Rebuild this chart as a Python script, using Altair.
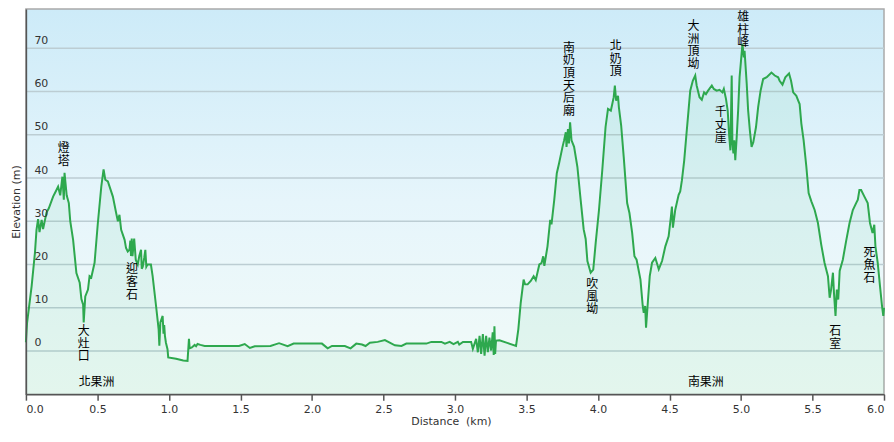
import altair as alt
import pandas as pd

# ---- elevation profile (distance km, elevation m) ----
km = [
    0.000, 0.008, 0.040, 0.063, 0.074, 0.085, 0.095, 0.110, 0.120, 0.144, 0.160, 0.190, 0.210,
    0.225, 0.240, 0.255, 0.265, 0.270, 0.285, 0.300, 0.310, 0.330, 0.353, 0.376, 0.388, 0.400,
    0.404, 0.415, 0.434, 0.445, 0.457, 0.480, 0.503, 0.527, 0.543, 0.555, 0.573, 0.608, 0.631,
    0.643, 0.654, 0.666, 0.690, 0.700, 0.712, 0.724, 0.730, 0.735, 0.740, 0.745, 0.757, 0.768,
    0.782, 0.793, 0.805, 0.810, 0.817, 0.827, 0.835, 0.842, 0.850, 0.874, 0.886, 0.910, 0.928,
    0.933, 0.940, 0.956, 0.962, 0.967, 0.972, 0.979, 0.990, 0.995, 1.050, 1.100, 1.130, 1.140,
    1.145, 1.160, 1.180, 1.190, 1.200, 1.220, 1.250, 1.490, 1.530, 1.566, 1.600, 1.710, 1.770,
    1.830, 1.872, 2.070, 2.110, 2.140, 2.230, 2.270, 2.310, 2.350, 2.375, 2.405, 2.460, 2.510,
    2.580, 2.626, 2.660, 2.800, 2.835, 2.905, 2.930, 2.963, 2.990, 3.020, 3.030, 3.056, 3.113,
    3.125, 3.148, 3.160, 3.172, 3.183, 3.195, 3.207, 3.218, 3.230, 3.241, 3.253, 3.264, 3.271,
    3.276, 3.281, 3.287, 3.311, 3.370, 3.427, 3.443, 3.460, 3.480, 3.490, 3.508, 3.530, 3.550,
    3.565, 3.590, 3.605, 3.617, 3.625, 3.647, 3.666, 3.675, 3.694, 3.712, 3.728, 3.752, 3.763,
    3.775, 3.780, 3.790, 3.797, 3.805, 3.815, 3.833, 3.856, 3.879, 3.900, 3.914, 3.926, 3.949,
    3.967, 3.984, 4.007, 4.030, 4.053, 4.070, 4.090, 4.100, 4.110, 4.118, 4.127, 4.140, 4.146,
    4.162, 4.180, 4.204, 4.220, 4.239, 4.255, 4.270, 4.297, 4.313, 4.320, 4.330, 4.336, 4.350,
    4.362, 4.378, 4.401, 4.425, 4.448, 4.471, 4.494, 4.510, 4.517, 4.524, 4.540, 4.564, 4.575,
    4.587, 4.603, 4.617, 4.633, 4.645, 4.663, 4.680, 4.690, 4.710, 4.726, 4.742, 4.755, 4.770,
    4.796, 4.810, 4.830, 4.850, 4.870, 4.880, 4.895, 4.907, 4.918, 4.926, 4.935, 4.940, 4.947,
    4.953, 4.960, 4.970, 4.980, 4.990, 5.000, 5.010, 5.020, 5.025, 5.040, 5.050, 5.062, 5.074,
    5.086, 5.105, 5.120, 5.137, 5.155, 5.180, 5.213, 5.236, 5.260, 5.270, 5.290, 5.310, 5.336,
    5.350, 5.365, 5.387, 5.400, 5.410, 5.422, 5.438, 5.457, 5.473, 5.492, 5.515, 5.538, 5.561,
    5.584, 5.608, 5.620, 5.630, 5.643, 5.650, 5.661, 5.670, 5.680, 5.690, 5.712, 5.735, 5.759,
    5.782, 5.805, 5.817, 5.828, 5.840, 5.863, 5.886, 5.902, 5.920, 5.932, 5.940, 5.956, 5.972,
    5.986, 5.995, 6.000,
]
elev = [
    2.0, 6.5, 15.0, 22.7, 28.0, 30.5, 27.5, 30.3, 28.2, 32.0, 33.0, 35.7, 37.0,
    38.0, 36.0, 40.3, 35.0, 41.2, 36.0, 34.2, 30.0, 25.7, 18.0, 15.8, 12.0, 10.7,
    6.6, 12.6, 14.2, 17.3, 17.0, 20.4, 29.6, 38.0, 42.0, 39.6, 39.2, 35.7, 31.9,
    30.0, 31.5, 28.0, 25.7, 23.8, 23.0, 23.4, 25.5, 22.0, 26.0, 21.9, 26.0, 21.1,
    20.0, 22.0, 23.4, 19.0, 19.5, 21.5, 23.4, 19.5, 20.0, 20.0, 17.3, 10.4, 5.0,
    1.2, 6.6, 8.1, 4.0, 6.0, 3.5, 1.9, 0.4, -1.5, -1.8, -2.2, -2.3, 2.8,
    0.6, 0.8, 1.4, 1.1, 1.6, 1.4, 1.15, 1.15, 1.6, 0.7, 1.1, 1.15, 1.8,
    1.1, 1.7, 1.7, 0.6, 1.15, 1.15, 0.6, 1.7, 1.5, 1.15, 1.9, 2.1, 2.5,
    1.3, 1.15, 1.7, 1.7, 2.1, 2.1, 1.7, 2.1, 1.6, 2.1, 1.5, 2.1, 2.1,
    0.5, 2.8, -0.3, 3.5, -0.7, 3.9, -1.1, 3.5, -0.3, 3.1, 0.1, 4.3, -0.9,
    5.7, -0.7, 2.4, 2.45, 1.8, 1.15, 5.0, 11.2, 16.5, 15.4, 15.4, 16.2, 17.3,
    16.4, 20.0, 20.3, 21.9, 19.7, 24.2, 30.3, 29.3, 34.9, 41.1, 43.4, 47.2, 48.7,
    50.6, 47.2, 51.3, 48.0, 52.9, 48.7, 47.2, 42.6, 34.9, 28.1, 25.9, 20.8, 18.1,
    18.8, 25.0, 32.6, 41.8, 51.8, 56.0, 55.6, 57.1, 58.7, 61.4, 57.9, 59.0, 56.4,
    52.2, 44.9, 34.2, 31.9, 27.3, 21.9, 21.1, 16.5, 10.4, 8.8, 10.4, 5.4, 11.9,
    17.3, 20.4, 21.5, 18.9, 20.8, 24.2, 26.5, 31.1, 33.4, 28.5, 32.6, 36.1, 36.9,
    39.5, 44.1, 49.5, 55.6, 60.2, 62.5, 63.7, 61.4, 58.7, 58.1, 59.8, 59.4, 60.2,
    61.4, 60.6, 60.2, 60.4, 59.8, 60.6, 58.3, 55.6, 49.5, 46.4, 63.7, 48.0, 45.7,
    48.7, 44.1, 49.5, 55.6, 63.3, 67.1, 71.0, 67.9, 69.4, 61.8, 55.6, 51.0, 47.2,
    48.3, 51.8, 56.4, 60.2, 62.9, 63.3, 64.4, 63.7, 63.3, 62.5, 61.6, 63.3, 64.2,
    62.5, 59.8, 59.0, 57.9, 57.1, 52.6, 48.7, 42.6, 36.5, 34.6, 32.6, 29.6, 24.6,
    20.4, 17.3, 12.3, 14.2, 18.1, 13.5, 8.1, 14.2, 11.9, 18.5, 21.1, 25.4, 29.6,
    32.6, 34.2, 35.0, 37.2, 37.2, 35.7, 34.2, 29.6, 27.3, 29.2, 24.2, 20.4, 15.0,
    10.4, 8.1, 10.0,
]

# ---- place-name labels (vertical ones are stacked character by character) ----
vlabel_names = ["燈塔", "大灶口", "迎客石", "南奶頂天后廟", "北奶頂", "大洲頂坳",
                "雄柱峰", "吹風坳", "千丈崖", "石室", "死魚石"]
vlabel_km = [0.264, 0.404, 0.741, 3.797, 4.124, 4.667, 5.016, 3.960, 4.858, 5.659, 5.899]
vlabel_top = [48.0, 5.75, 20.0, 71.3, 71.7, 76.3, 78.4, 16.6, 56.3, 5.75, 23.9]

hlabel_names = ["北果洲", "南果洲"]
hlabel_km = [0.494, 4.754]
hlabel_mid = [-7.1, -7.1]

x_ticks = [0.0, 0.5, 1.0, 1.5, 2.0, 2.5, 3.0, 3.5, 4.0, 4.5, 5.0, 5.5, 6.0]
y_ticks = [0, 10, 20, 30, 40, 50, 60, 70]

W, H = 862, 387
YMIN, YMAX = -10, 79.1
FONT = "DejaVu Sans"
CJK = "Noto Sans CJK TC"

profile = pd.DataFrame({"km": km, "elev": elev})
vlabels = pd.DataFrame({
    "km": vlabel_km,
    "elev": vlabel_top,
    "txt": ["\n".join(list(s)) for s in vlabel_names],
})
hlabels = pd.DataFrame({"km": hlabel_km, "elev": hlabel_mid, "txt": hlabel_names})
grid_df = pd.DataFrame({"v": y_ticks})
bg_df = pd.DataFrame({"one": [1]})

x_scale = alt.Scale(domain=[0, 6], nice=False, zero=False)
y_scale = alt.Scale(domain=[YMIN, YMAX], nice=False, zero=False)

x_axis = alt.Axis(
    values=x_ticks, format=".1f", grid=False, labelFlush=True, zindex=2,
    tickSize=6, tickColor="#555555", tickWidth=1.5,
    domainColor="#555555", domainWidth=1.5,
    labelPadding=3, labelFont=FONT, labelFontSize=11, labelColor="#333333",
    title="Distance \u00a0(km)", titleFont=FONT, titleFontSize=11,
    titleFontWeight="normal", titleColor="#333333",
    titleX=427, titleY=27, titleBaseline="middle", titleAlign="center",
)
y_axis = alt.Axis(
    values=y_ticks, grid=False, zindex=2,
    ticks=False, labelAlign="left", labelBaseline="bottom",
    labelPadding=-8, labelOffset=-3,
    labelFont=FONT, labelFontSize=11, labelColor="#333333",
    domainColor="#555555", domainWidth=1.5,
    title="Elevation (m)", titleFont=FONT, titleFontSize=11,
    titleFontWeight="normal", titleColor="#333333",
    titleAngle=270, titleX=-9, titleY=H / 2, titleBaseline="middle", titleAlign="center",
)

gradient = alt.LinearGradient(
    gradient="linear", x1=0, y1=0, x2=0, y2=1,
    stops=[
        alt.GradientStop(offset=0, color="#cdebf8"),
        alt.GradientStop(offset=0.5, color="#e6f5fb"),
        alt.GradientStop(offset=1, color="#f2fbf8"),
    ],
)

background = alt.Chart(bg_df).mark_rect(
    color=gradient, stroke="#a9a9a9", strokeWidth=1.5
).encode(
    x=alt.value(0), x2=alt.value(W), y=alt.value(0), y2=alt.value(H),
)
grid = alt.Chart(grid_df).mark_rule(color="#bccdd3", strokeWidth=1.5).encode(
    y=alt.Y("v:Q", scale=y_scale),
)
area = alt.Chart(profile).mark_area(color="#33c070", opacity=0.08).encode(
    x=alt.X("km:Q", scale=x_scale, axis=x_axis),
    y=alt.Y("elev:Q", scale=y_scale, axis=y_axis),
    y2=alt.datum(YMIN),
)
line = alt.Chart(profile).mark_line(color="#2ea84e", strokeWidth=2).encode(
    x=alt.X("km:Q", scale=x_scale),
    y=alt.Y("elev:Q", scale=y_scale),
)
vtext = alt.Chart(vlabels).mark_text(
    lineBreak="\n", baseline="top", align="center", font=CJK,
    fontSize=12, lineHeight=12.7, color="#000000",
).encode(
    x=alt.X("km:Q", scale=x_scale),
    y=alt.Y("elev:Q", scale=y_scale),
    text="txt:N",
)
htext = alt.Chart(hlabels).mark_text(
    baseline="middle", align="center", font=CJK, fontSize=12, color="#000000",
).encode(
    x=alt.X("km:Q", scale=x_scale),
    y=alt.Y("elev:Q", scale=y_scale),
    text="txt:N",
)

chart = alt.layer(background, grid, area, line, vtext, htext).properties(
    width=W, height=H,
    autosize=alt.AutoSizeParams(type="none"),
    padding={"left": 18, "top": 0, "right": 2, "bottom": 33},
    background="#ffffff",
).configure_view(stroke=None)

chart.save("out.html", embed_options={"renderer": "svg", "actions": False})
